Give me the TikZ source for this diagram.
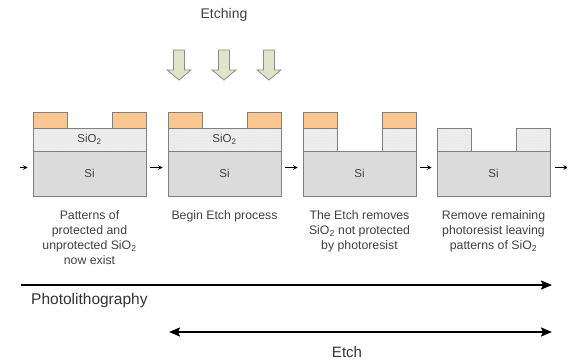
\documentclass[tikz,border=0pt]{standalone}
\usepackage{fontspec}
\setmainfont{Liberation Sans}
\usetikzlibrary{arrows.meta,positioning,patterns}
\newcommand{\siotwo}{SiO\textsubscript{2}}

\begin{document}
\begin{tikzpicture}[x=1pt,y=-1pt]
            \tikzset{layer/.style = {draw=black!50, line width=0.8pt, inner sep=0pt, text=black!75, font=\fontsize{11.5}{13}\selectfont}}
            \tikzset{resist/.style = {layer, fill={rgb,255:red,251;green,198;blue,143}, minimum width=34pt, minimum height=16pt}}
            \tikzset{oxide/.style = {layer, preaction={fill=black!7}, pattern=dots, pattern color=black!12, minimum height=23pt}}
            \tikzset{silicon/.style = {layer, fill=black!14, minimum width=113pt, minimum height=45pt}}
            \tikzset{caption/.style = {align=center, inner sep=0pt, text=black!75, font=\fontsize{12.3}{15}\selectfont}}
            \tikzset{stepline/.style = {line width=1pt, -{Stealth[length=4.5pt,width=4.5pt]}}}
            \tikzset{timeline/.style = {line width=2pt, -{Stealth[length=11pt,width=9pt,inset=2pt]}}}
            \tikzset{bothline/.style = {line width=2pt, {Stealth[length=11pt,width=9pt,inset=2pt]}-{Stealth[length=11pt,width=9pt,inset=2pt]}}}
            \tikzset{etcharrow/.style = {draw=black!45, fill={rgb,255:red,224;green,228;blue,200}, line width=0.8pt}}
            \useasboundingbox (0,0) rectangle (567,360);
            % panel 1
            \node[resist] (r1a) at (50,120) {};
            \node[resist] (r1b) at (129,120) {};
            \node[oxide, minimum width=113pt] (ox1) at (89.5,139.5) {\siotwo};
            \node[silicon] (si1) at (89.5,173.5) {Si};
            % panel 2
            \node[resist] (r2a) at (185,120) {};
            \node[resist] (r2b) at (264,120) {};
            \node[oxide, minimum width=113pt] (ox2) at (224.5,139.5) {\siotwo};
            \node[silicon] (si2) at (224.5,173.5) {Si};
            % panel 3
            \node[resist] (r3a) at (320,120) {};
            \node[resist] (r3b) at (399,120) {};
            \node[oxide, minimum width=34pt] (ox3a) at (320,139.5) {};
            \node[oxide, minimum width=34pt] (ox3b) at (399,139.5) {};
            \node[silicon] (si3) at (359.5,173.5) {Si};
            % panel 4
            \node[oxide, minimum width=34pt] (ox4a) at (454,139.5) {};
            \node[oxide, minimum width=34pt] (ox4b) at (533,139.5) {};
            \node[silicon] (si4) at (493.5,173.5) {Si};
            % captions
            \node[caption, below=14pt of si1] (c1) {Patterns of\\protected and\\unprotected \siotwo\\now exist};
            \node[caption, below=14pt of si2] (c2) {Begin Etch process};
            \node[caption, below=14pt of si3] (c3) {The Etch removes\\\siotwo{} not protected\\by photoresist};
            \node[caption, below=14pt of si4] (c4) {Remove remaining\\photoresist leaving\\patterns of \siotwo};
            % etching
            \node[text=black!75, font=\fontsize{14}{16}\selectfont] (etching) at (224,15) {Etching};
            \foreach \x in {179,224,269}
                \draw[etcharrow] (\x-5.5,50) -- (\x+5.5,50) -- (\x+5.5,70) -- (\x+12,70) -- (\x,80) -- (\x-12,70) -- (\x-5.5,70) -- cycle;
            % steps
            \coordinate (in0) at (20,167.5);
            \coordinate (out0) at (568,167.5);
            \draw[stepline] (in0) -- ([xshift=-5pt,yshift=6pt]si1.west);
            \draw[stepline] ([xshift=4pt,yshift=6pt]si1.east) -- ([xshift=-5pt,yshift=6pt]si2.west);
            \draw[stepline] ([xshift=4pt,yshift=6pt]si2.east) -- ([xshift=-5pt,yshift=6pt]si3.west);
            \draw[stepline] ([xshift=4pt,yshift=6pt]si3.east) -- ([xshift=-5pt,yshift=6pt]si4.west);
            \draw[stepline] ([xshift=5pt,yshift=6pt]si4.east) -- (out0);
            % time lines
            \coordinate (pl0) at (21,285);
            \coordinate (pl1) at (552,285);
            \coordinate (et0) at (169,332);
            \coordinate (et1) at (552,332);
            \draw[timeline] (pl0) -- (pl1);
            \draw[bothline] (et0) -- (et1);
            \node[anchor=west, inner sep=0pt, text=black!80, font=\fontsize{15.5}{17}\selectfont] (photo) at (31,300) {Photolithography};
            \node[text=black!80, font=\fontsize{15}{17}\selectfont] (etch) at (347,352) {Etch};
        \end{tikzpicture}
\end{document}
